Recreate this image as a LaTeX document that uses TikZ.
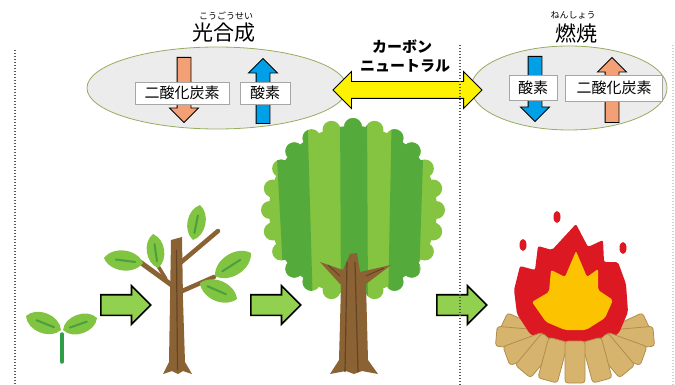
\documentclass[tikz,border=0pt]{standalone}
\usepackage{fontspec}
\newfontfamily\jpfont{Noto Sans CJK JP}
\usetikzlibrary{shapes, shapes.geometric, arrows.meta, positioning, calc}

\definecolor{bubblefill}{RGB}{236,236,236}
\definecolor{bubbleedge}{RGB}{150,172,96}
\definecolor{co2orange}{RGB}{244,160,118}
\definecolor{o2blue}{RGB}{0,160,233}
\definecolor{arrowgreen}{RGB}{146,208,80}
\definecolor{leafgreen}{RGB}{128,196,66}
\definecolor{leafvein}{RGB}{72,160,62}
\definecolor{stemgreen}{RGB}{47,158,70}
\definecolor{crownlight}{RGB}{132,196,64}
\definecolor{crowndark}{RGB}{84,170,58}
\definecolor{trunkbrown}{RGB}{138,98,52}
\definecolor{trunkdark}{RGB}{100,68,36}
\definecolor{flamered}{RGB}{220,24,34}
\definecolor{flameyellow}{RGB}{252,196,0}
\definecolor{logbeige}{RGB}{214,180,110}
\definecolor{logline}{RGB}{178,140,76}

% leaf: base point, tip point, bend angle
\newcommand{\drawleaf}[3]{%
  \fill[leafgreen] (#1) to[bend left=#3] (#2) to[bend left=#3] (#1);
  \draw[leafvein, line width=2pt, line cap=round] ($(#1)!0.2!(#2)$) -- ($(#1)!0.7!(#2)$);}

\begin{document}
\begin{tikzpicture}[x=1pt, y=-1pt,
  bubble/.style={ellipse, draw=bubbleedge, fill=bubblefill, line width=0.8pt, inner sep=0pt},
  gasbox/.style={rectangle, draw=gray!70, fill=white, line width=0.8pt, inner sep=0pt,
    font=\jpfont\fontsize{15}{15}\selectfont},
  gasarrow/.style={single arrow, draw=black, line width=0.9pt, inner xsep=0pt, inner ysep=6.5pt,
    minimum width=28pt, single arrow head extend=7.5pt, minimum height=65pt, anchor=tail},
  growarrow/.style={single arrow, draw=black, fill=arrowgreen, line width=1.6pt, inner xsep=0pt,
    inner ysep=9.5pt, minimum width=37pt, single arrow head extend=9pt, minimum height=50pt,
    anchor=tail},
  title/.style={font=\jpfont\fontsize{21}{21}\selectfont, inner sep=0pt},
  ruby/.style={font=\jpfont\fontsize{9}{9}\selectfont, inner sep=0pt},
  neutral/.style={font=\jpfont\bfseries\fontsize{15}{15}\selectfont, inner sep=0pt},
  logbox/.style={rectangle, draw=logline, fill=logbeige, line width=0.8pt, rounded corners=3pt,
    minimum width=42pt, minimum height=20pt, inner sep=0pt},
  divider/.style={line width=1.4pt, dash pattern=on 1.4pt off 1.6pt}
]
  \useasboundingbox (0,0) rectangle (675,385);

  % --- photosynthesis / combustion bubbles
  \node[bubble, minimum width=260pt, minimum height=82pt] (photo) at (217,88) {};
  \node[bubble, minimum width=196pt, minimum height=84pt] (burn) at (569,88) {};

  \node[title] (photoTitle) at (224,33) {光合成};
  \node[ruby] (photoRuby) at (226,16) {こうごうせい};
  \node[title] (burnTitle) at (576,33) {燃焼};
  \node[ruby] (burnRuby) at (573,15) {ねんしょう};

  \node[gasarrow, fill=co2orange, rotate=-90] (photoCO2) at (184,57) {};
  \node[gasarrow, fill=o2blue, rotate=90] (photoO2) at (263,124) {};
  \node[gasarrow, fill=o2blue, rotate=-90] (burnO2) at (535,56) {};
  \node[gasarrow, fill=co2orange, rotate=90] (burnCO2) at (612,123) {};

  \node[gasbox, minimum width=94pt, minimum height=22pt] (photoCO2box) at (182,93) {二酸化炭素};
  \node[gasbox, minimum width=50pt, minimum height=22pt] (photoO2box) at (265,93) {酸素};
  \node[gasbox, minimum width=48pt, minimum height=25pt] (burnO2box) at (533,88) {酸素};
  \node[gasbox, minimum width=97pt, minimum height=26pt] (burnCO2box) at (614,88) {二酸化炭素};

  % --- carbon neutral
  \node[double arrow, draw=black, fill=yellow, line width=0.9pt, inner xsep=0pt, inner ysep=8pt,
    minimum width=36pt, minimum height=149pt, double arrow head extend=10pt] (balance) at (407.5,90) {};
  \node[neutral] (neutralTop) at (402,47) {カーボン};
  \node[neutral] (neutralBottom) at (405,66) {ニュートラル};

  % --- sprout
  \draw[stemgreen, line width=3.5pt, line cap=round] (62,334) -- (62,362);
  \drawleaf{61,330}{26,316}{65}
  \drawleaf{63,330}{97,318}{65}

  % --- young tree
  \draw[trunkbrown, line width=5pt, line cap=round] (173,286) -- (140,262);
  \draw[trunkbrown, line width=4.5pt, line cap=round] (179,264) -- (218,231);
  \draw[trunkbrown, line width=4.5pt, line cap=round] (180,292) -- (214,277);
  \draw[trunkbrown, line width=3.5pt, line cap=round] (166,279) -- (158,266);
  \fill[trunkbrown] (163,374) -- (169,362) -- (170,300) -- (171,240) -- (182,237) -- (183,300)
    -- (185,362) -- (192,374) -- (183,371) -- (178,374) -- (172,371) -- cycle;
  \draw[trunkdark, line width=1.2pt] (176.5,250) -- (177.5,370);
  \drawleaf{143,263}{104,258}{60}
  \drawleaf{158,268}{153,234}{60}
  \drawleaf{193,240}{200,205}{60}
  \drawleaf{215,276}{251,253}{60}
  \drawleaf{200,283}{237,299}{60}

  % --- big tree crown with scalloped rim
  \begin{scope}
    \clip (353,210) circle (84) foreach \a in {0,15,...,345} {($(353,210)+(\a:83)$) circle (9)};
    \fill[crownlight] (255,110) rectangle (450,310);
    \fill[crowndark] (274,100) -- (307,100) -- (313,310) -- (285,310) -- cycle;
    \fill[crowndark] (340,100) -- (367,100) -- (368,310) -- (341,310) -- cycle;
    \fill[crowndark] (392,100) -- (425,100) -- (418,310) -- (388,310) -- cycle;
  \end{scope}
  \fill[trunkbrown] (330,374) -- (339,360) -- (341,285) -- (320,262) -- (343,270) -- (350,254)
    -- (357,253) -- (360,272) -- (391,265) -- (366,284) -- (368,360) -- (378,374) -- (362,371)
    -- (354,374) -- (346,371) -- cycle;
  \draw[trunkdark, line width=1.2pt] (347,262) -- (345,372);
  \draw[trunkdark, line width=1.2pt] (355,262) -- (358,372);
  \draw[trunkdark, line width=1pt] (328,265) -- (340,276);
  \draw[trunkdark, line width=1pt] (366,276) -- (384,268);

  % --- growth arrows
  \node[growarrow] (toYoung) at (100,305) {};
  \node[growarrow] (toBig) at (250,305) {};
  \node[growarrow] (toFire) at (436,305) {};

  % --- campfire: back logs, flame, front logs
  \foreach \a/\r in {-25/25, 205/-25, -5/5, 185/-5}
    \node[logbox, rotate=\r] at ($(575,340)+(\a:58 and 22)$) {};
  \fill[flamered, rounded corners=2pt] (576,224) -- (588,247) -- (603,240) -- (604,262) -- (618,262)
    -- (626,284) -- (628,312) -- (619,333) -- (598,346) -- (576,350) -- (552,346) -- (530,334)
    -- (517,314) -- (514,290) -- (520,266) -- (535,270) -- (538,246) -- (552,250) -- cycle;
  \fill[flameyellow, rounded corners=2pt] (576,251) -- (587,277) -- (598,269) -- (598,290)
    -- (613,300) -- (605,318) -- (586,330) -- (565,330) -- (546,322) -- (532,302) -- (549,292)
    -- (551,270) -- (565,277) -- cycle;
  \fill[flamered] (557,217) ellipse (3.5 and 6);
  \fill[flamered] (523,245) ellipse (3.5 and 6);
  \fill[flamered] (623,248) ellipse (3.5 and 6);
  \foreach \a/\r in {160/-160, 20/-20, 138/-130, 42/-50, 115/-105, 65/-75, 90/-90}
    \node[logbox, rotate=\r] at ($(575,342)+(\a:52 and 20)$) {};

  % --- dotted dividers
  \draw[divider, gray!70!black] (15,50) -- (15,385);
  \draw[divider, gray!70!black] (460,45) -- (460,385);
  \draw[divider, gray!35] (673,45) -- (673,385);
\end{tikzpicture}
\end{document}
